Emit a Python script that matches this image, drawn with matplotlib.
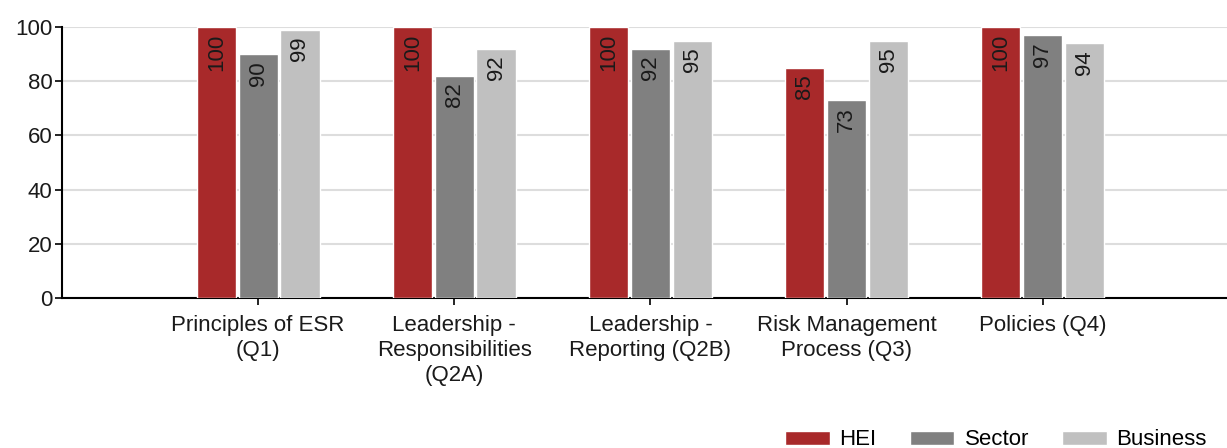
import numpy as np
import matplotlib
matplotlib.use('Agg')
from matplotlib import pyplot as plt

plt.rcParams['font.family'] = ['Liberation Sans', 'DejaVu Sans']

categories = ['Principles of ESR\n(Q1)', 'Leadership -\nResponsibilities\n(Q2A)',
              'Leadership -\nReporting (Q2B)', 'Risk Management\nProcess (Q3)', 'Policies (Q4)']
hei = [100, 100, 100, 85, 100]
sector = [90, 82, 92, 73, 97]
business = [99, 92, 95, 95, 94]
series_names = ['HEI', 'Sector', 'Business']
colors = ['#a8292a', '#808080', '#c0c0c0']

fig = plt.figure(figsize=(12.27, 4.48), dpi=100)
ax = fig.add_axes([62/1227, 1-298/448, 1-62/1227, (298-27)/448])

x = np.arange(len(categories))
w = 0.2
offs = [-0.213, 0, 0.213]
for vals, name, c, o in zip([hei, sector, business], series_names, colors, offs):
    bars = ax.bar(x+o, vals, w, color=c, edgecolor='white', linewidth=1, label=name, zorder=3)
    for b, v in zip(bars, vals):
        ax.text(b.get_x()+b.get_width()/2, v-2.5, str(v), rotation=90, ha='center', va='top',
                fontsize=16, color='#1a1a1a', zorder=4)

ax.set_xlim(-1, 4.94)
ax.set_ylim(0, 100)
ax.set_yticks([0, 20, 40, 60, 80, 100])
ax.set_xticks(x)
ax.set_xticklabels(categories, fontsize=16, color='#1a1a1a', linespacing=1.25)
ax.tick_params(axis='y', labelsize=16, labelcolor='#1a1a1a', length=5, width=1.2, pad=2)
ax.tick_params(axis='x', length=5, width=1.2, pad=7)
ax.yaxis.grid(True, color='#dddddd', linewidth=1.5, zorder=0)
for s in ['top', 'right']:
    ax.spines[s].set_visible(False)
ax.spines['left'].set_linewidth(1.5)
ax.spines['bottom'].set_linewidth(1.5)

fig.legend(loc='lower right', bbox_to_anchor=(1.0, -0.05), ncol=3, frameon=False, fontsize=16,
           handlelength=2.0, handleheight=0.6, handletextpad=0.45, columnspacing=1.5)

plt.savefig('out.png', dpi=100)
